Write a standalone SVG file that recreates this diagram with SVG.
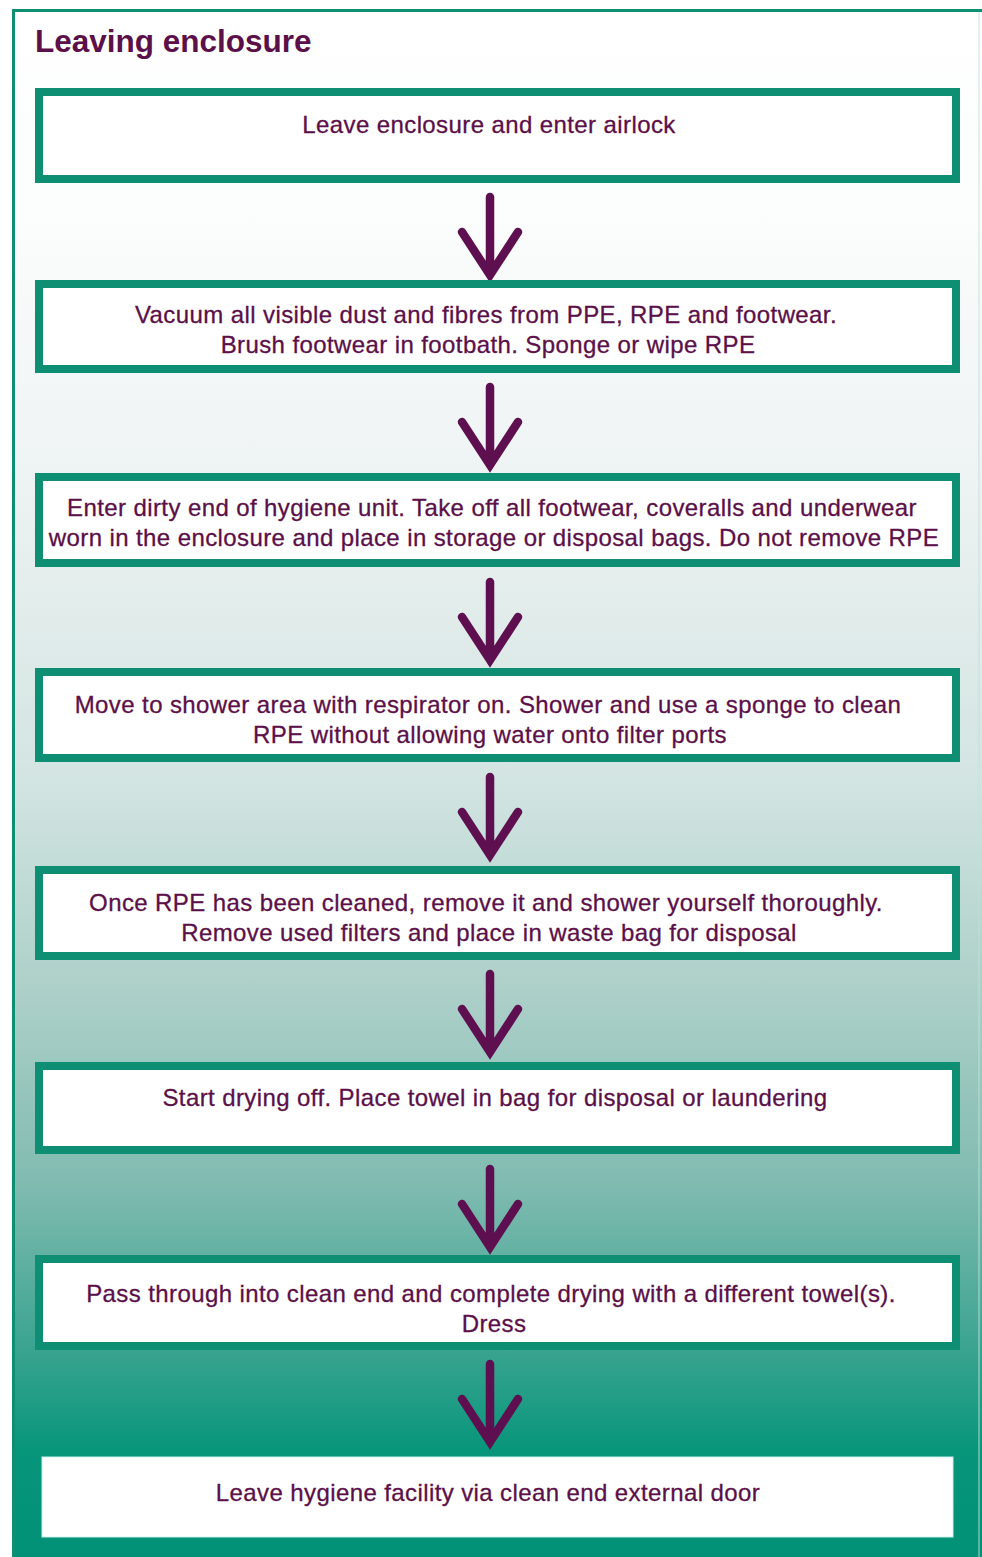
<svg xmlns="http://www.w3.org/2000/svg" width="982" height="1557" viewBox="0 0 982 1557">
<defs>
<linearGradient id="bg" gradientUnits="userSpaceOnUse" x1="0" y1="9" x2="0" y2="1557">
<stop offset="0" stop-color="#ffffff"/>
<stop offset="0.14" stop-color="#fbfcfc"/>
<stop offset="0.3" stop-color="#eef3f3"/>
<stop offset="0.5" stop-color="#d2e4e1"/>
<stop offset="0.64" stop-color="#abcfc8"/>
<stop offset="0.76" stop-color="#80bbb0"/>
<stop offset="0.86" stop-color="#3ea592"/>
<stop offset="0.93" stop-color="#08967b"/>
<stop offset="1" stop-color="#009177"/>
</linearGradient>
</defs>
<style>
.box{fill:#ffffff;stroke:#0e8f74;stroke-width:8}
.last{fill:#ffffff;stroke:#c8f0ec;stroke-width:1}
.t{font-family:"Liberation Sans",Arial,sans-serif;font-size:24px;letter-spacing:0.4px;fill:#5b1049;stroke:#5b1049;stroke-width:0.3;text-anchor:middle}
.title{font-family:"Liberation Sans",Arial,sans-serif;font-size:31.5px;font-weight:bold;fill:#5b1049}
.arr{fill:none;stroke:#5e0f50;stroke-width:8.5;stroke-linecap:round;stroke-linejoin:miter}
</style>
<rect x="0" y="0" width="982" height="1557" fill="#ffffff"/>
<rect x="12" y="9" width="970" height="1548" fill="url(#bg)"/>
<path d="M13.5,1557 V10.5 H982" fill="none" stroke="#0e8f74" stroke-width="3"/>
<line x1="979" y1="12" x2="979" y2="1557" stroke="#bfe3dd" stroke-width="1.5" opacity="0.6"/>
<text class="title" x="35" y="52">Leaving enclosure</text>

<g id="connectors">
<path class="arr" d="M490,197 V271 M462,232 L490,275 L518,232"/>
<path class="arr" d="M490,387 V461 M462,422 L490,465 L518,422"/>
<path class="arr" d="M490,582 V656 M462,617 L490,660 L518,617"/>
<path class="arr" d="M490,777 V851 M462,812 L490,855 L518,812"/>
<path class="arr" d="M490,974 V1048 M462,1009 L490,1052 L518,1009"/>
<path class="arr" d="M490,1169 V1243 M462,1204 L490,1247 L518,1204"/>
<path class="arr" d="M490,1364 V1438 M462,1399 L490,1442 L518,1399"/>
</g>

<g id="step1">
<rect class="box" x="39" y="92" width="917" height="87"/>
<text class="t" x="489" y="133">Leave enclosure and enter airlock</text>
</g>
<g id="step2">
<rect class="box" x="39" y="284" width="917" height="85"/>
<text class="t" x="486" y="323">Vacuum all visible dust and fibres from PPE, RPE and footwear.</text>
<text class="t" x="488" y="353">Brush footwear in footbath. Sponge or wipe RPE</text>
</g>
<g id="step3">
<rect class="box" x="39" y="477" width="917" height="86"/>
<text class="t" x="492" y="516">Enter dirty end of hygiene unit. Take off all footwear, coveralls and underwear</text>
<text class="t" x="494" y="546">worn in the enclosure and place in storage or disposal bags. Do not remove RPE</text>
</g>
<g id="step4">
<rect class="box" x="39" y="672" width="917" height="86"/>
<text class="t" x="488" y="713">Move to shower area with respirator on. Shower and use a sponge to clean</text>
<text class="t" x="490" y="743">RPE without allowing water onto filter ports</text>
</g>
<g id="step5">
<rect class="box" x="39" y="870" width="917" height="86"/>
<text class="t" x="486" y="911">Once RPE has been cleaned, remove it and shower yourself thoroughly.</text>
<text class="t" x="489" y="941">Remove used filters and place in waste bag for disposal</text>
</g>
<g id="step6">
<rect class="box" x="39" y="1066" width="917" height="84"/>
<text class="t" x="495" y="1106">Start drying off. Place towel in bag for disposal or laundering</text>
</g>
<g id="step7">
<rect class="box" x="39" y="1259" width="917" height="87"/>
<text class="t" x="491" y="1302">Pass through into clean end and complete drying with a different towel(s).</text>
<text class="t" x="494" y="1332">Dress</text>
</g>
<g id="step8">
<rect class="last" x="42" y="1457" width="911" height="80"/>
<text class="t" x="488" y="1501">Leave hygiene facility via clean end external door</text>
</g>
</svg>
